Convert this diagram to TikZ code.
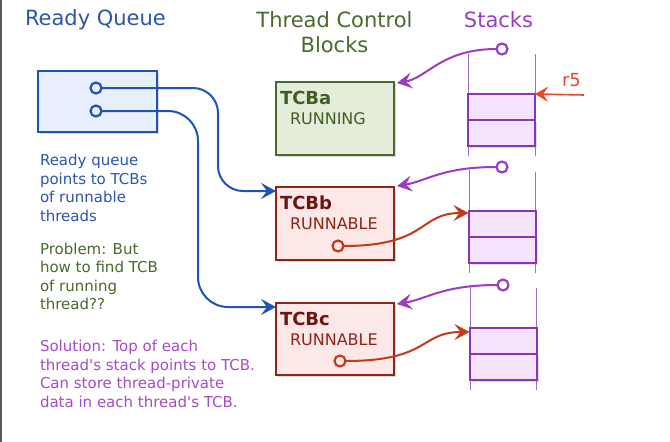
\documentclass[tikz,border=0pt]{standalone}
\usepackage{fontspec}
\setmainfont{DejaVu Sans}[Ligatures=TeXOff]
\usetikzlibrary{arrows.meta,calc,shadows}
\definecolor{qblue}{HTML}{2152B5}
\definecolor{qbluetext}{HTML}{2A55B2}
\definecolor{qbluefill}{HTML}{E7EEFC}
\definecolor{tgreen}{HTML}{4A6A2A}
\definecolor{greentext}{HTML}{3F5F22}
\definecolor{greenfill}{HTML}{E3EDD9}
\definecolor{greenborder}{HTML}{4B6830}
\definecolor{tred}{HTML}{6E1410}
\definecolor{redborder}{HTML}{8E2418}
\definecolor{pinkfill}{HTML}{FDE8E8}
\definecolor{ared}{HTML}{C43A1C}
\definecolor{rfive}{HTML}{E8472A}
\definecolor{pstroke}{HTML}{9A3CC4}
\definecolor{ptext}{HTML}{A34BCA}
\definecolor{lavender}{HTML}{F5E4FD}
\definecolor{stackborder}{HTML}{8A35B8}
\definecolor{stackwallc}{HTML}{A070C0}
\begin{document}
\begin{tikzpicture}[x=1pt,y=-1pt,
  every node/.style={inner sep=0pt, outer sep=0pt},
  titletext/.style={font=\fontsize{21}{25}\selectfont},
  body/.style={font=\fontsize{15}{18.5}\selectfont, align=left, anchor=north west},
  box/.style={draw, rectangle, line width=1.5pt, drop shadow={opacity=0.3, shadow xshift=2pt, shadow yshift=-2pt}},
  ptr/.style={circle, draw, line width=2.2pt, minimum size=11pt},
  conn/.style={line width=2pt, -{Stealth[length=15pt,width=16pt,inset=6pt]}},
  tcbname/.style={font=\bfseries\fontsize{18}{20}\selectfont, anchor=base west},
  tcbstate/.style={font=\fontsize{16}{18}\selectfont, anchor=base west},
  stackcell/.style={rectangle, draw=stackborder, fill=lavender, line width=2pt, minimum width=67pt, minimum height=26pt},
  stackshadow/.style={drop shadow={opacity=0.25, shadow xshift=2pt, shadow yshift=-2pt}},
  stackwall/.style={draw=stackwallc, line width=0.7pt},
]
\useasboundingbox (0,0) rectangle (670,442);
\fill[white] (0,0) rectangle (670,442);
\draw[gray!70!black, line width=1.2pt] (1,0) -- (1,442);

% titles
\node[titletext, text=qbluetext, anchor=base west] (t1) at (25,25) {Ready Queue};
\node[titletext, text=tgreen, anchor=north, align=center, font=\fontsize{21}{25}\selectfont] (t2) at (334.5,12) {Thread Control\\Blocks};
\node[titletext, text=pstroke, anchor=base] (t3) at (498.5,27) {Stacks};

% ready queue box
\node[box, draw=qblue, fill=qbluefill, minimum width=119pt, minimum height=61pt] (rq) at (97.5,101.5) {};
\node[ptr, draw=qblue, fill=qbluefill] (q1) at (96,88) {};
\node[ptr, draw=qblue, fill=qbluefill] (q2) at (96,111) {};

% TCBs
\node[box, draw=greenborder, fill=greenfill, minimum width=118pt, minimum height=73pt] (tcba) at (335,118.5) {};
\node[box, draw=redborder, fill=pinkfill, minimum width=118pt, minimum height=73pt] (tcbb) at (335,223.5) {};
\node[box, draw=redborder, fill=pinkfill, minimum width=118pt, minimum height=72pt] (tcbc) at (335,339) {};

\node[tcbname, text=greentext] (na) at ($(tcba.north west)+(4,22)$) {TCBa};
\node[tcbstate, text=greentext] (sa) at ($(tcba.north west)+(14,42)$) {RUNNING};
\node[tcbname, text=tred] (nb) at ($(tcbb.north west)+(4,22)$) {TCBb};
\node[tcbstate, text=redborder] (sb) at ($(tcbb.north west)+(14,42)$) {RUNNABLE};
\node[tcbname, text=tred] (nc) at ($(tcbc.north west)+(4,22)$) {TCBc};
\node[tcbstate, text=redborder] (sc) at ($(tcbc.north west)+(14,42)$) {RUNNABLE};

\node[ptr, draw=ared, fill=pinkfill] (cb) at ($(tcbb.north west)+(62,59)$) {};
\node[ptr, draw=ared, fill=pinkfill] (cc) at ($(tcbc.north west)+(64,58)$) {};

% stacks walls
\draw[stackwall] (468,54) -- (468,156);
\draw[stackwall] (535,54) -- (535,156);
\draw[stackwall] (469,170) -- (469,273);
\draw[stackwall] (535,172) -- (535,273);
\draw[stackwall] (470,285) -- (470,390);
\draw[stackwall] (536,288) -- (536,390);

% stack cells
\node[stackcell, stackshadow] (s1b) at (501.5,133) {};
\node[stackcell] (s1a) at (501.5,107) {};
\node[stackcell, stackshadow] (s2b) at (502,250) {};
\node[stackcell] (s2a) at (502,224) {};
\node[stackcell, stackshadow] (s3b) at (503,367) {};
\node[stackcell] (s3a) at (503,341) {};

% stack-top pointers
\node[ptr, draw=pstroke, fill=white] (sc1) at (502,49) {};
\node[ptr, draw=pstroke, fill=white] (sc2) at (502,167) {};
\node[ptr, draw=pstroke, fill=white] (sc3) at (503,285) {};

% connectors: ready queue
\draw[conn, qblue, rounded corners=25pt] (q1.east) -| ($(tcbb.north west)+(-58,4)$) -- ($(tcbb.north west)+(0,4)$);
\draw[conn, qblue, rounded corners=30pt] (q2.east) -| ($(tcbc.north west)+(-78,4)$) -- ($(tcbc.north west)+(0,4)$);

% connectors: stacks to TCBs
\draw[conn, pstroke] (sc1.west) .. controls +(-55,0) and +(30,-5) .. ($(tcba.north east)+(3,1)$);
\draw[conn, pstroke] (sc2.west) .. controls +(-55,0) and +(30,-5) .. ($(tcbb.north east)+(3,-1)$);
\draw[conn, pstroke] (sc3.west) .. controls +(-55,0) and +(30,-5) .. ($(tcbc.north east)+(3,1)$);

% connectors: TCBs to stacks
\draw[conn, ared] (cb.east) .. controls +(85,0) and +(-50,0) .. ($(s2a.north west)+(0,2)$);
\draw[conn, ared] (cc.east) .. controls +(85,0) and +(-50,0) .. ($(s3a.north west)+(0,4)$);

% r5
\coordinate (r5s) at (584,95);
\draw[line width=1.6pt, rfive, -{Stealth[length=13pt,width=15pt,inset=5pt]}] (r5s) -- (s1a.north east);
\node[text=rfive, font=\fontsize{18}{20}\selectfont, anchor=base west] (r5) at (562,86) {r5};

% side texts
\node[body, text=qbluetext] (txt1) at (40,154.6) {Ready queue\\points to TCBs\\of runnable\\threads};
\node[body, text=tgreen] (txt2) at (40,242.9) {Problem: But\\how to find TCB\\of running\\thread??};
\node[body, text=ptext] (txt3) at (40,340.3) {Solution: Top of each\\thread's stack points to TCB.\\Can store thread-private\\data in each thread's TCB.};
\end{tikzpicture}
\end{document}
